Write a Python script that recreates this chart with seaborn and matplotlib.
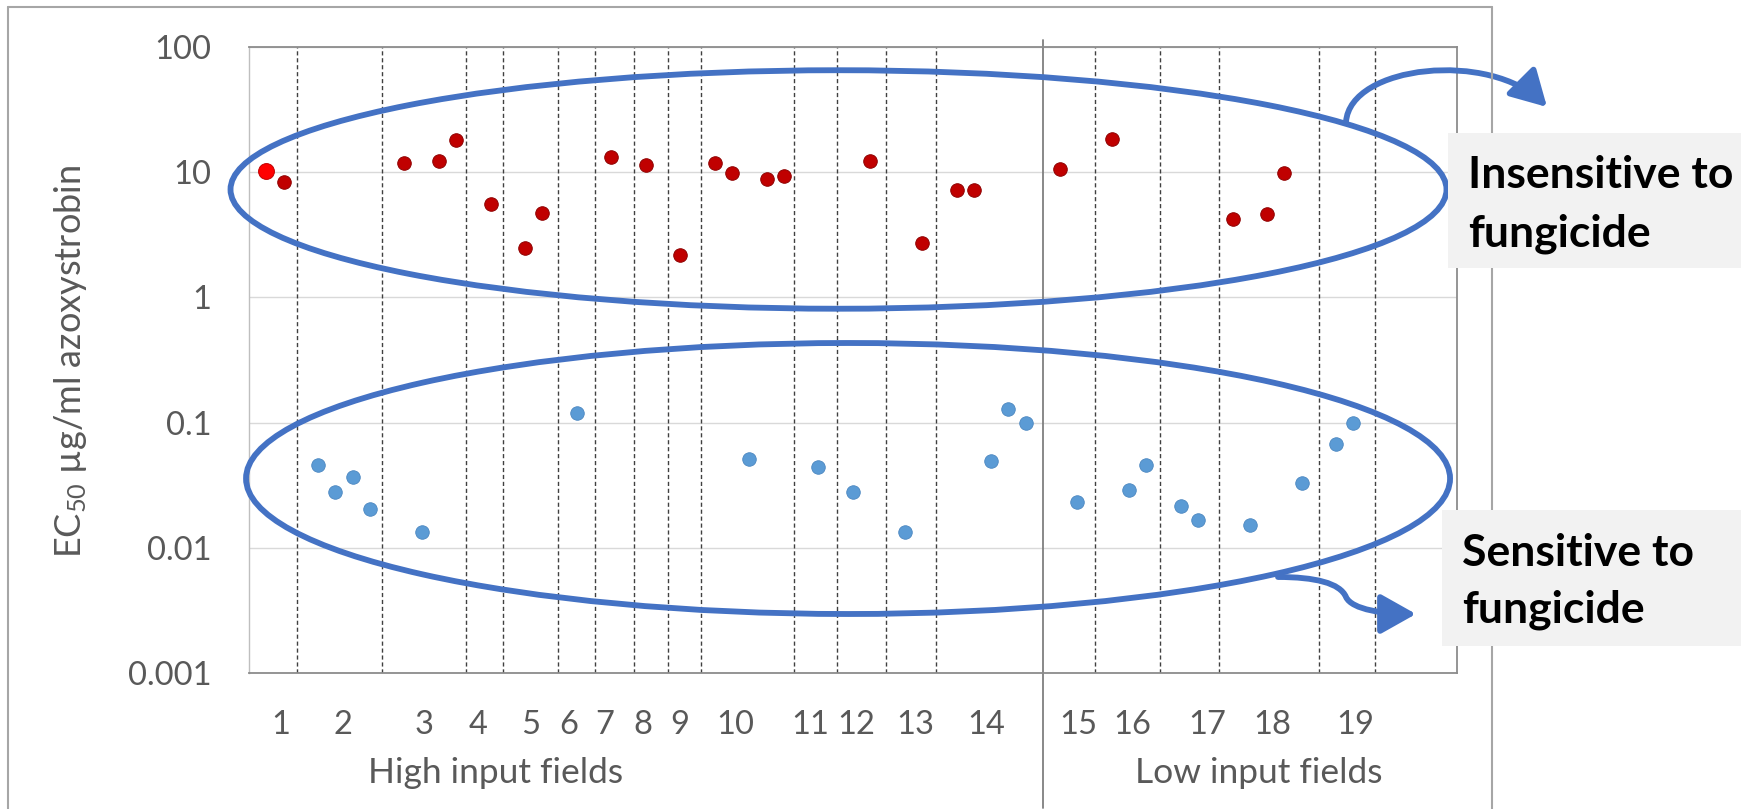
import numpy as np
import pandas as pd
import matplotlib
matplotlib.use("Agg")
import matplotlib.pyplot as plt
import seaborn as sns
from matplotlib.patches import Ellipse, Rectangle, FancyArrowPatch
from matplotlib.path import Path
from matplotlib.lines import Line2D
import matplotlib.transforms as mtransforms
from matplotlib.ticker import NullLocator

# ---------------- data ----------------
field_labels = [str(i) for i in range(1, 20)]
field_label_pos = [1.85, 5.45, 10.14, 13.27, 16.34, 18.5, 20.63, 22.83, 24.98, 28.16,
                   32.5, 35.17, 38.6, 42.7, 48.04, 51.2, 55.5, 59.3, 64.1]
field_dividers = [2.78, 7.7, 12.6, 14.7, 17.9, 20.05, 22.3, 24.3, 26.2, 31.6,
                  34.1, 36.9, 39.8, 49.0, 52.8, 56.2, 62.0, 65.25]
input_divider = 46.0

insensitive_x = [1, 2, 9, 11, 12, 14, 16, 17, 21, 23, 25, 27, 28, 30, 31, 36, 39,
                 41, 42, 47, 50, 57, 59, 60]
insensitive_ec50 = [10.2, 8.3, 11.9, 12.2, 18.0, 5.6, 2.5, 4.7, 13.3, 11.4, 2.17,
                    11.9, 9.9, 8.9, 9.3, 12.3, 2.7, 7.2, 7.2, 10.6, 18.3, 4.26, 4.6, 9.9]
sensitive_x = [4, 5, 6, 7, 10, 19, 29, 33, 35, 38, 43, 44, 45, 48, 51, 52, 54, 55,
               58, 61, 63, 64]
sensitive_ec50 = [0.046, 0.028, 0.037, 0.0204, 0.0134, 0.12, 0.051, 0.044, 0.028,
                  0.0134, 0.049, 0.129, 0.1, 0.0234, 0.029, 0.046, 0.0217, 0.0166,
                  0.0153, 0.033, 0.068, 0.1]
y_ticks = [0.001, 0.01, 0.1, 1, 10, 100]
y_ticklabels = ["0.001", "0.01", "0.1", "1", "10", "100"]

# ---------------- style ----------------
sns.set_style("white")
plt.rcParams['font.family'] = ['Lato', 'DejaVu Sans']

W, H = 1741, 809
fig = plt.figure(figsize=(W / 100, H / 100), dpi=100)
fig.patch.set_facecolor('white')


def fx(px):
    return px / W


def fy(py):
    return 1 - py / H


ax = fig.add_axes([fx(249), fy(673), 1208 / W, 626 / H])

df = pd.DataFrame({
    'x': insensitive_x + sensitive_x,
    'ec50': insensitive_ec50 + sensitive_ec50,
    'group': ['insensitive'] * len(insensitive_x) + ['sensitive'] * len(sensitive_x),
})

sns.scatterplot(data=df[df.group == 'sensitive'], x='x', y='ec50', color='#5B9BD5',
                s=95, edgecolor='#4A86C0', linewidth=0.6, ax=ax, zorder=4, legend=False)
sns.scatterplot(data=df[df.group == 'insensitive'], x='x', y='ec50', color='#C00000',
                s=95, edgecolor='#8E0000', linewidth=0.7, ax=ax, zorder=4, legend=False)
sns.scatterplot(data=df.iloc[[0]], x='x', y='ec50', color='#FF0000',
                s=130, edgecolor='#C00000', linewidth=0.7, ax=ax, zorder=5, legend=False)

ax.set_yscale('log')
ax.set_ylim(0.001, 100)
ax.set_xlim(0, 70)
ax.set_yticks(y_ticks)
ax.set_yticklabels(y_ticklabels)
ax.yaxis.set_minor_locator(NullLocator())
ax.set_xticks(field_label_pos)
ax.set_xticklabels(field_labels)
ax.tick_params(axis='both', length=0, labelsize=23.5, labelcolor='#595959', pad=27)
ax.set_xlabel('')
ax.set_ylabel('')
ax.grid(axis='y', color='#D9D9D9', linewidth=1.0)
ax.grid(axis='x', visible=False)
ax.set_axisbelow(True)
ax.spines['left'].set_color('#BFBFBF')
ax.spines['left'].set_linewidth(1.0)
for s in ['top', 'right', 'bottom']:
    ax.spines[s].set_color('#8C8C8C')
    ax.spines[s].set_linewidth(1.3)

for p in field_dividers:
    ax.axvline(p, color='#404040', lw=1.0, ls=(0, (3, 2)), zorder=1)

blend = mtransforms.blended_transform_factory(ax.transData, ax.transAxes)
ax.add_line(Line2D([input_divider, input_divider], [1.011, -0.215], transform=blend,
                   color='#7F7F7F', lw=1.3, clip_on=False, zorder=2))

# outer chart frame
for xs, ys in [([fx(8), fx(8)], [fy(7), -0.01]),
               ([fx(8), fx(1492)], [fy(7), fy(7)]),
               ([fx(1492), fx(1492)], [fy(7), -0.01])]:
    fig.add_artist(Line2D(xs, ys, transform=fig.transFigure, color='#A6A6A6', lw=1.5))

# axis titles
fig.text(fx(71), fy(361), 'EC$\\mathregular{_{50}}$ µg/ml azoxystrobin', rotation=90,
         ha='center', va='center', fontsize=26, color='#595959')
fig.text(fx(496), fy(783), 'High input fields', ha='center', va='baseline',
         fontsize=25.5, color='#595959')
fig.text(fx(1259), fy(783), 'Low input fields', ha='center', va='baseline',
         fontsize=25.5, color='#595959')

# ellipses
blue = '#4472C4'
ax.add_patch(Ellipse((0.488, 0.7724), 1.0066, 0.381, transform=ax.transAxes, fill=False,
                     ec=blue, lw=4.2, clip_on=False, zorder=6))
ax.add_patch(Ellipse((0.4959, 0.3107), 0.9967, 0.4329, transform=ax.transAxes, fill=False,
                     ec=blue, lw=4.2, clip_on=False, zorder=6))

# arrows
def fpts(pts):
    return [(fx(a), fy(b)) for a, b in pts]

up_path = Path(fpts([(1346, 122), (1350, 65), (1490, 50), (1547, 107)]),
               [Path.MOVETO, Path.CURVE4, Path.CURVE4, Path.CURVE4])
fig.add_artist(FancyArrowPatch(path=up_path, transform=fig.transFigure,
                               arrowstyle='-|>,head_length=0.8,head_width=0.45',
                               mutation_scale=27, color=blue, lw=4.2))
lo_path = Path(fpts([(1278, 577), (1315, 577), (1340, 583), (1346, 597),
                     (1352, 610), (1385, 614), (1416, 614)]),
               [Path.MOVETO, Path.CURVE4, Path.CURVE4, Path.CURVE4,
                Path.CURVE4, Path.CURVE4, Path.CURVE4])
fig.add_artist(FancyArrowPatch(path=lo_path, transform=fig.transFigure,
                               arrowstyle='-|>,head_length=0.8,head_width=0.45',
                               mutation_scale=27, color=blue, lw=4.2))

# annotation boxes
fig.add_artist(Rectangle((fx(1448), fy(268)), (1745 - 1448) / W, (268 - 133) / H,
                         transform=fig.transFigure, facecolor='#F2F2F2', edgecolor='none',
                         zorder=8))
fig.add_artist(Rectangle((fx(1442), fy(646)), (1745 - 1442) / W, (646 - 510) / H,
                         transform=fig.transFigure, facecolor='#F2F2F2', edgecolor='none',
                         zorder=8))
for txt, xx, yy in [('Insensitive to', 1468, 188), ('fungicide', 1468, 246),
                    ('Sensitive to', 1462, 566), ('fungicide', 1462, 623)]:
    fig.text(fx(xx), fy(yy), txt, ha='left', va='baseline', fontsize=32,
             fontweight='bold', color='black', zorder=9)

fig.savefig('out.png', dpi=100, facecolor='white')
